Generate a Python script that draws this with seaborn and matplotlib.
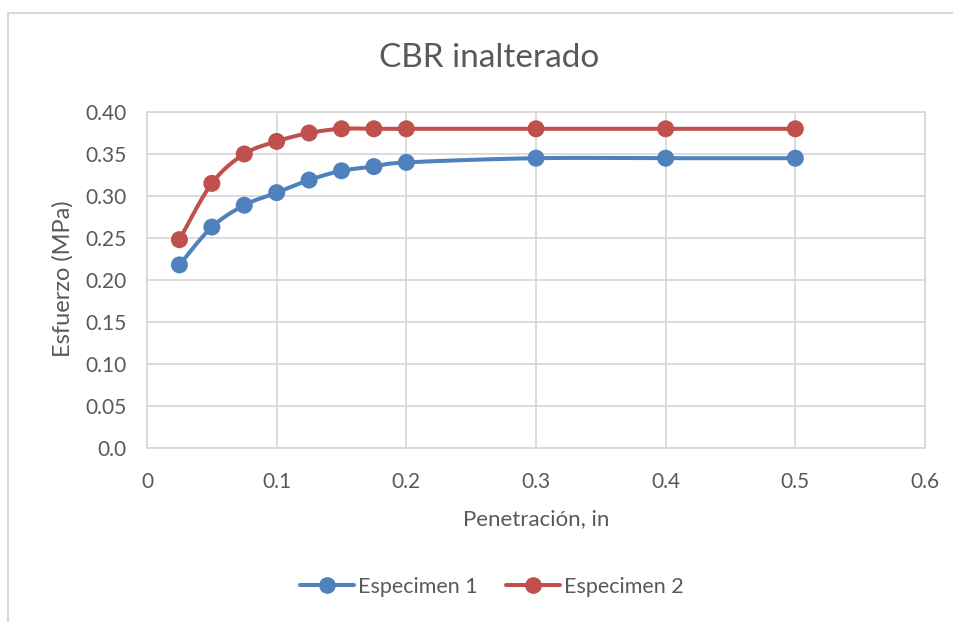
import numpy as np
import pandas as pd
import matplotlib
matplotlib.use("Agg")
import matplotlib.pyplot as plt
from matplotlib.lines import Line2D
import seaborn as sns

# Penetration readings (in) and measured stress (MPa) for each specimen
penetracion = [0.025, 0.05, 0.075, 0.1, 0.125, 0.15, 0.175, 0.2, 0.3, 0.4, 0.5]
especimen_1 = [0.218, 0.263, 0.289, 0.304, 0.319, 0.330, 0.335, 0.340, 0.345, 0.345, 0.345]
especimen_2 = [0.248, 0.315, 0.350, 0.365, 0.375, 0.380, 0.380, 0.380, 0.380, 0.380, 0.380]
series_names = ["Especimen 1", "Especimen 2"]
x_ticks = [0, 0.1, 0.2, 0.3, 0.4, 0.5, 0.6]
x_tick_labels = ["0", "0.1", "0.2", "0.3", "0.4", "0.5", "0.6"]
y_ticks = [0.0, 0.05, 0.10, 0.15, 0.20, 0.25, 0.30, 0.35, 0.40]
y_tick_labels = ["0.0", "0.05", "0.10", "0.15", "0.20", "0.25", "0.30", "0.35", "0.40"]

colors = {"Especimen 1": "#4F81BD", "Especimen 2": "#C0504D"}
text_color = "#595959"
grid_color = "#D9D9D9"

df = pd.DataFrame({
    "Penetración": penetracion * 2,
    "Esfuerzo": especimen_1 + especimen_2,
    "Serie": [series_names[0]] * len(penetracion) + [series_names[1]] * len(penetracion),
})

sns.set_theme(style="white")
plt.rcParams["font.family"] = ["Lato", "DejaVu Sans"]

fig = plt.figure(figsize=(9.54, 6.22), dpi=100)
ax = fig.add_axes([147 / 954, 1 - 448 / 622, (925 - 147) / 954, (448 - 112) / 622])
ax.set_xlim(0, 0.6)
ax.set_ylim(0, 0.4)


def smooth_curve(ax, xs, ys, n=30, t=1 / 6):
    """Excel-style smoothed line: cubic Bezier segments computed in screen space."""
    pts = ax.transData.transform(np.column_stack([xs, ys]))
    out = [pts[0]]
    m = len(pts)
    for i in range(m - 1):
        p0 = pts[i - 1] if i > 0 else pts[i]
        p1 = pts[i]
        p2 = pts[i + 1]
        p3 = pts[i + 2] if i + 2 < m else pts[i + 1]
        c1 = p1 + (p2 - p0) * t
        c2 = p2 - (p3 - p1) * t
        s = np.linspace(0, 1, n)[1:, None]
        seg = ((1 - s) ** 3) * p1 + 3 * ((1 - s) ** 2) * s * c1 + 3 * (1 - s) * s ** 2 * c2 + s ** 3 * p2
        out.extend(seg)
    out = np.array(out)
    return ax.transData.inverted().transform(out)


for name in series_names:
    sub = df[df["Serie"] == name]
    curve = smooth_curve(ax, sub["Penetración"].to_numpy(), sub["Esfuerzo"].to_numpy())
    ax.plot(curve[:, 0], curve[:, 1], color=colors[name], lw=2.9, solid_capstyle="round", zorder=3)

sns.scatterplot(data=df, x="Penetración", y="Esfuerzo", hue="Serie", palette=colors,
                s=150, edgecolor="none", ax=ax, legend=False, zorder=4)

ax.set_xlim(0, 0.6)
ax.set_ylim(0, 0.4)
ax.set_xticks(x_ticks)
ax.set_xticklabels(x_tick_labels)
ax.set_yticks(y_ticks)
ax.set_yticklabels(y_tick_labels)
ax.tick_params(axis="both", length=0, labelsize=15, labelcolor=text_color)
ax.tick_params(axis="x", pad=17)
ax.tick_params(axis="y", pad=15)
ax.grid(True, color=grid_color, lw=1.3)
ax.set_axisbelow(True)
for side in ["left", "bottom", "top", "right"]:
    ax.spines[side].set_color(grid_color)
    ax.spines[side].set_linewidth(1.3)

ax.set_xlabel("Penetración, in", fontsize=16, color=text_color)
ax.set_ylabel("Esfuerzo (MPa)", fontsize=17, color=text_color)
ax.xaxis.label.set_va("center")
ax.yaxis.label.set_va("center")
ax.xaxis.set_label_coords(0.5, (448 - 519) / 336)
ax.yaxis.set_label_coords((63 - 147) / 778, 0.5 - (279 - 280) / 336)
fig.text(489 / 954, 1 - 58 / 622, "CBR inalterado", ha="center", va="center",
         fontsize=24, color=text_color)

handles = [Line2D([0], [0], color=colors[n], lw=2.9, marker="o", markersize=11, label=n)
           for n in series_names]
fig.legend(handles=handles, loc="center", bbox_to_anchor=(492 / 954, 1 - 587 / 622),
           ncol=2, frameon=False, fontsize=15.5, labelcolor=text_color,
           handlelength=2.5, columnspacing=1.3, handletextpad=0.2)

# Chart-area border
fig.add_artist(Line2D([8 / 954, 1], [1 - 13 / 622] * 2, transform=fig.transFigure, color="#D9D9D9", lw=1.5))
fig.add_artist(Line2D([8 / 954] * 2, [0, 1 - 13 / 622], transform=fig.transFigure, color="#D9D9D9", lw=1.5))

fig.savefig("out.png", dpi=100)
